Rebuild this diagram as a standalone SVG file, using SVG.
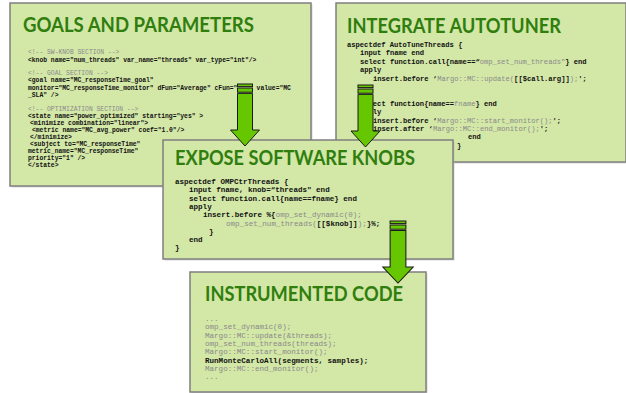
<svg xmlns="http://www.w3.org/2000/svg" xmlns:xlink="http://www.w3.org/1999/xlink" width="626" height="393" viewBox="0 0 626 393">
<style>
.box{fill:#d3e7a7;stroke:#7f7f7f;stroke-width:1.5}
.shd{fill:#b8b8b8;opacity:0.55}
.title{font-family:Lato,"Open Sans","Liberation Sans",sans-serif;font-weight:bold;font-size:20px;fill:#2f7e0e}
.c{font-family:"Liberation Mono","DejaVu Sans Mono",monospace;fill:#111;font-weight:bold}
.g{fill:#8a8a8a;font-weight:normal}
.s1{font-size:6.35px}
.s2{font-size:7.13px}
.s3{font-size:7.57px}
.arr{fill:#66c600;stroke:#1a1a1a;stroke-width:1}
</style>
<defs>
<g id="arrow">
<rect class="arr" x="-7.5" y="0" width="15" height="2.6"/>
<rect class="arr" x="-7.5" y="4" width="15" height="4.2"/>
<path class="arr" d="M-7.5,9.4 H7.5 V46 H14.5 L0,62 L-14.5,46 H-7.5 Z"/>
</g>
</defs>
<rect width="626" height="393" fill="#fff"/>

<g id="goals">
<rect class="shd" x="11.5" y="4.5" width="301" height="183"/>
<rect class="box" x="10" y="3" width="301" height="183"/>
<text class="title" x="23" y="32" textLength="231" lengthAdjust="spacingAndGlyphs">GOALS AND PARAMETERS</text>
<g class="c s1">
<text x="28" y="54" class="g">&lt;!-- SW-KNOB SECTION --&gt;</text>
<text x="28" y="61.6">&lt;knob name="num_threads" var_name="threads" var_type="int"/&gt;</text>
<text x="28" y="75" class="g">&lt;!-- GOAL SECTION --&gt;</text>
<text x="28" y="82.3">&lt;goal name="MC_responseTime_goal"</text>
<text x="28" y="89.6">monitor="MC_responseTime_monitor" dFun="Average" cFun="</text>
<text x="256.6" y="89.6">value="MC</text>
<text x="28" y="97">_SLA" /&gt;</text>
<text x="28" y="111.3" class="g">&lt;!-- OPTIMIZATION SECTION --&gt;</text>
<text x="28" y="118.3">&lt;state name="power_optimized" starting="yes" &gt;</text>
<text x="30" y="125.3">&lt;minimize combination="linear"&gt;</text>
<text x="32" y="132.3">&lt;metric name="MC_avg_power" coef="1.0"/&gt;</text>
<text x="30" y="139.3">&lt;/minimize&gt;</text>
<text x="30" y="146.3">&lt;subject to=“MC_responseTime"</text>
<text x="28" y="153.3">metric_name="MC_responseTime"</text>
<text x="28" y="160.3">priority="1" /&gt;</text>
<text x="28" y="167.3">&lt;/state&gt;</text>
</g>
</g>

<g id="integrate">
<rect class="shd" x="337.5" y="4.5" width="290" height="159"/>
<rect class="box" x="336" y="3" width="290" height="159"/>
<text class="title" x="347" y="33" textLength="214" lengthAdjust="spacingAndGlyphs">INTEGRATE AUTOTUNER</text>
<g class="c s2">
<text x="347" y="47">aspectdef AutoTuneThreads {</text>
<text x="360" y="55.4">input fname end</text>
<text x="360" y="63.8">select function.call{name==“<tspan class="g">omp_set_num_threads"</tspan>} end</text>
<text x="360" y="72.2">apply</text>
<text x="373" y="80.6">insert.before ‘<tspan class="g">Margo::MC::update(</tspan>[[$call.arg]]<tspan class="g">);</tspan>';</text>
<text x="360" y="105.8">select function{name==<tspan class="g">fname</tspan>} end</text>
<text x="360" y="114.2">apply</text>
<text x="373" y="122.6">insert.before ‘<tspan class="g">Margo::MC::start_monitor();</tspan>';</text>
<text x="373" y="131">insert.after ‘<tspan class="g">Margo::MC::end_monitor();</tspan>';</text>
<text x="468" y="139.4">end</text>
<text x="457" y="147.8">}</text>
</g>
</g>

<g id="expose">
<rect class="shd" x="164.5" y="141.5" width="290" height="119"/>
<rect class="box" x="163" y="140" width="290" height="119"/>
<text class="title" x="175" y="164.5" textLength="240" lengthAdjust="spacingAndGlyphs">EXPOSE SOFTWARE KNOBS</text>
<g class="c s3">
<text x="175" y="184">aspectdef OMPCtrThreads {</text>
<text x="189" y="192.3">input fname, knob=“threads" end</text>
<text x="189" y="200.6">select function.call{name==fname} end</text>
<text x="189" y="208.9">apply</text>
<text x="203" y="217.2">insert.before %{<tspan class="g">omp_set_dynamic(0);</tspan></text>
<text x="226" y="225.5"><tspan class="g">omp_set_num_threads(</tspan>[[$knob]]<tspan class="g">);</tspan>}%;</text>
<text x="209" y="233.8">}</text>
<text x="189" y="242.1">end</text>
<text x="175" y="250.4">}</text>
</g>
</g>

<g id="instrumented">
<rect class="shd" x="191.5" y="273.5" width="236" height="120"/>
<rect class="box" x="190" y="272" width="236" height="120"/>
<text class="title" x="205" y="301" textLength="198" lengthAdjust="spacingAndGlyphs">INSTRUMENTED CODE</text>
<g class="c s3">
<text x="205" y="321" class="g">...</text>
<text x="205" y="329.3" class="g">omp_set_dynamic(0);</text>
<text x="205" y="337.6" class="g">Margo::MC::update(&amp;threads);</text>
<text x="205" y="345.9" class="g">omp_set_num_threads(threads);</text>
<text x="205" y="354.2" class="g">Margo::MC::start_monitor();</text>
<text x="205" y="362.5">RunMonteCarloAll(segments, samples);</text>
<text x="205" y="370.8" class="g">Margo::MC::end_monitor();</text>
<text x="205" y="379.1" class="g">...</text>
</g>
</g>

<g id="connectors">
<use xlink:href="#arrow" href="#arrow" transform="translate(245,84)"/>
<use xlink:href="#arrow" href="#arrow" transform="translate(365.5,85)"/>
<use xlink:href="#arrow" href="#arrow" transform="translate(398,221) scale(1.05,1)"/>
</g>
</svg>
